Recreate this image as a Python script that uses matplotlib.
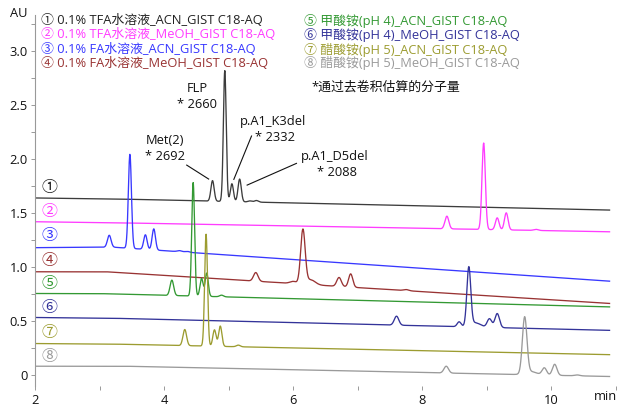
import numpy as np
import matplotlib
matplotlib.use("Agg")
import matplotlib.pyplot as plt
from matplotlib.ticker import MultipleLocator

plt.rcParams['font.family'] = ['Open Sans', 'Noto Sans CJK SC', 'DejaVu Sans']

# ---- chromatogram data -------------------------------------------------
trace_labels = [
    "① 0.1% TFA水溶液_ACN_GIST C18-AQ",
    "② 0.1% TFA水溶液_MeOH_GIST C18-AQ",
    "③ 0.1% FA水溶液_ACN_GIST C18-AQ",
    "④ 0.1% FA水溶液_MeOH_GIST C18-AQ",
    "⑤ 甲酸铵(pH 4)_ACN_GIST C18-AQ",
    "⑥ 甲酸铵(pH 4)_MeOH_GIST C18-AQ",
    "⑦ 醋酸铵(pH 5)_ACN_GIST C18-AQ",
    "⑧ 醋酸铵(pH 5)_MeOH_GIST C18-AQ",
]
trace_marks = ["①", "②", "③", "④", "⑤", "⑥", "⑦", "⑧"]
trace_colors = ["#3c3c3c", "#ff3cff", "#3838ff", "#993333",
                "#339933", "#333399", "#9c9c30", "#9a9a9a"]

# baseline knots (min, AU) for each run
base_t = [[2.0, 3.3, 10.9], [2.0, 3.3, 10.9], [2.0, 3.2, 10.9], [2.0, 3.1, 10.9],
          [2.0, 3.0, 10.9], [2.0, 3.2, 10.9], [2.0, 3.2, 10.9], [2.0, 3.4, 10.9]]
base_au = [[1.64, 1.63, 1.528], [1.42, 1.41, 1.327], [1.18, 1.185, 0.87],
           [0.957, 0.957, 0.664], [0.756, 0.755, 0.632], [0.534, 0.527, 0.415],
           [0.293, 0.288, 0.19], [0.083, 0.083, -0.012]]

# peaks: retention time (min), height above baseline (AU), width sigma (min)
peak_rt = [
    [4.75, 4.94, 5.05, 5.17, 5.33, 5.43],
    [8.38, 8.95, 9.16, 9.30, 9.76],
    [3.15, 3.47, 3.71, 3.84, 4.24, 4.36],
    [5.42, 6.00, 6.15, 6.27, 6.71, 6.89, 7.75],
    [4.12, 4.45, 4.58, 4.66, 4.89],
    [7.60, 8.57, 8.72, 8.82, 9.04, 9.16],
    [4.32, 4.65, 4.78, 4.87, 5.15],
    [8.37, 9.585, 9.68, 9.89, 10.05, 10.40],
]
peak_h = [
    [0.19, 1.21, 0.165, 0.21, 0.01, 0.015],
    [0.117, 0.80, 0.11, 0.158, 0.01],
    [0.11, 0.87, 0.135, 0.195, 0.01, 0.008],
    [0.08, 0.02, 0.50, 0.045, 0.083, 0.123, 0.01],
    [0.142, 1.05, 0.165, 0.215, 0.015],
    [0.083, 0.045, 0.54, 0.04, 0.08, 0.13],
    [0.149, 1.035, 0.152, 0.188, 0.015],
    [0.063, 0.52, 0.03, 0.066, 0.102, 0.008],
]
peak_w = [
    [0.025, 0.022, 0.024, 0.025, 0.03, 0.03],
    [0.03, 0.026, 0.028, 0.028, 0.035],
    [0.028, 0.024, 0.026, 0.026, 0.035, 0.035],
    [0.035, 0.05, 0.035, 0.07, 0.035, 0.032, 0.04],
    [0.028, 0.022, 0.024, 0.024, 0.03],
    [0.035, 0.03, 0.03, 0.08, 0.035, 0.035],
    [0.028, 0.022, 0.025, 0.025, 0.03],
    [0.035, 0.035, 0.09, 0.035, 0.035, 0.04],
]

y_ticks = [0, 0.5, 1.0, 1.5, 2.0, 2.5, 3.0]
y_tick_labels = ["0", "0.5", "1.0", "1.5", "2.0", "2.5", "3.0"]
x_ticks = [2, 4, 6, 8, 10]

FS = 9.3
W, H = 642, 407
fig = plt.figure(figsize=(W / 100, H / 100), dpi=100)
ax = fig.add_axes([35 / W, 1 - 386 / H, (616 - 35) / W, (386 - 15) / H])

t = np.linspace(2.0, 10.9, 4000)
for i in range(8):
    y = np.interp(t, base_t[i], base_au[i])
    for rt, h, w in zip(peak_rt[i], peak_h[i], peak_w[i]):
        y = y + h * np.exp(-0.5 * ((t - rt) / w) ** 2)
    ax.plot(t, y, color=trace_colors[i], lw=0.95, solid_joinstyle="round")

ax.set_xlim(2.0, 11.0)
ax.set_ylim(-0.10, 3.333)

for s in ["top", "right", "bottom"]:
    ax.spines[s].set_visible(False)
ax.spines["left"].set_color("#999999")
ax.spines["left"].set_linewidth(0.8)

ax.set_xticks(x_ticks)
ax.set_xticklabels([str(v) for v in x_ticks])
ax.xaxis.set_minor_locator(MultipleLocator(1))
ax.set_yticks(y_ticks)
ax.set_yticklabels(y_tick_labels)
ax.yaxis.set_minor_locator(MultipleLocator(0.25))
ax.tick_params(which="both", direction="out", length=3, width=0.7,
               color="#999999", labelsize=FS, labelcolor="#111111")
ax.tick_params(axis="y", which="both", pad=2)
ax.tick_params(axis="x", which="both", pad=3)


def ftext(x, y, s, **kw):
    fig.text(x / W, 1 - y / H, s, **kw)


ftext(19, 13.5, "AU", ha="center", va="center", fontsize=FS, color="#111111")
ftext(605, 397, "min", ha="center", va="center", fontsize=FS, color="#111111")

# legend text, two columns
for i in range(8):
    col = i // 4
    row = i % 4
    x0 = 41 if col == 0 else 304
    y0 = [20.7, 35.0, 49.7, 63.5][row]
    ftext(x0, y0, trace_labels[i], ha="left", va="center", fontsize=FS,
          color=trace_colors[i] if i != 0 else "#222222")

ftext(311, 87, "*通过去卷积估算的分子量", ha="left", va="center",
      fontsize=FS, color="#111111")

# circled run numbers beside each trace
mark_y = [188.3, 211.7, 236.0, 260.5, 284.3, 308.3, 332.7, 356.7]
for i in range(8):
    ftext(50, mark_y[i], trace_marks[i], ha="center", va="center",
          fontsize=11.5, color=trace_colors[i] if i != 0 else "#222222")

# peak identification
lab_kw = dict(ha="center", va="center", fontsize=FS, color="#111111")
ftext(197, 88.3, "FLP", **lab_kw)
ftext(197, 104.3, "* 2660", **lab_kw)
ftext(165, 140.7, "Met(2)", **lab_kw)
ftext(165, 156.7, "* 2692", **lab_kw)
ftext(273, 121.7, "p.A1_K3del", **lab_kw)
ftext(275, 137.7, "* 2332", **lab_kw)
ftext(335, 156.7, "p.A1_D5del", **lab_kw)
ftext(337, 172.7, "* 2088", **lab_kw)

line_kw = dict(color="#111111", lw=0.8)
ax.plot([4.35, 4.69], [1.944, 1.815], **line_kw)
ax.plot([5.354, 5.08], [2.213, 1.812], **line_kw)
ax.plot([6.05, 5.286], [1.96, 1.759], **line_kw)

fig.savefig("out.png", dpi=100)
